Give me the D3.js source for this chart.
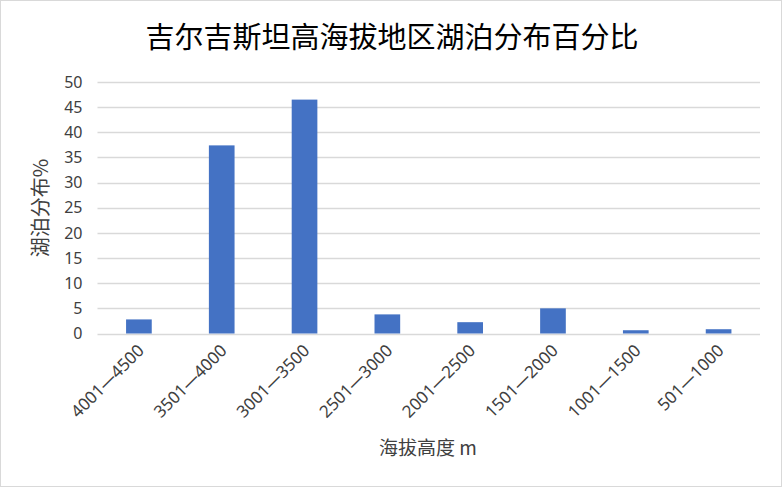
<!DOCTYPE html>
<html>
<head>
<meta charset="utf-8">
<script src="https://cdn.jsdelivr.net/npm/d3@7"></script>
<style>
  body { margin: 0; background: #fff; }
  text { font-family: "Noto Sans CJK SC", "Noto Sans", sans-serif; fill: #404040; }
</style>
</head>
<body>
<svg id="chart" width="783" height="489"></svg>
<script>
var categories = ["4001—4500", "3501—4000", "3001—3500", "2501—3000", "2001—2500", "1501—2000", "1001—1500", "501—1000"];
var values = [2.8, 37.4, 46.5, 3.8, 2.25, 5.0, 0.65, 0.85];
var yTicks = [0, 5, 10, 15, 20, 25, 30, 35, 40, 45, 50];

var title = "吉尔吉斯坦高海拔地区湖泊分布百分比";
var xTitle = "海拔高度 m";
var yTitle = "湖泊分布%";

var svg = d3.select("#chart");
var plotLeft = 97.5, plotRight = 760, plotTop = 82, plotBottom = 333.5;

// chart border
svg.append("rect")
	.attr("x", 0.5).attr("y", 0.5)
	.attr("width", 781).attr("height", 486)
	.attr("fill", "white")
	.attr("stroke", "#d9d9d9");

var x = d3.scaleBand()
	.domain(categories)
	.range([plotLeft, plotRight])
	.paddingInner(0.69)
	.paddingOuter(0.345);
var y = d3.scaleLinear()
	.domain([0, 50])
	.range([plotBottom, plotTop]);

// gridlines
svg.append("g")
	.selectAll("line")
	.data(yTicks)
	.enter()
		.append("line")
		.attr("x1", plotLeft).attr("x2", plotRight)
		.attr("y1", function(d){ return Math.round(y(d)) + 0.5; })
		.attr("y2", function(d){ return Math.round(y(d)) + 0.5; })
		.attr("stroke", "#d9d9d9")
		.attr("stroke-width", 1.5);

// y axis labels
var yAxis = svg.append("g")
	.attr("transform", "translate(" + (plotLeft - 15) + ",0)")
	.call(d3.axisLeft(y).tickValues(yTicks).tickSize(0).tickPadding(0));
yAxis.select(".domain").remove();
yAxis.selectAll("text")
	.attr("font-size", 16)
	.attr("fill", "#404040")
	.style("font-family", "'Noto Sans', sans-serif");

// bars
svg.append("g")
	.selectAll("rect")
	.data(values)
	.enter()
		.append("rect")
		.attr("x", function(d, i){ return x(categories[i]); })
		.attr("y", function(d){ return y(d); })
		.attr("width", x.bandwidth())
		.attr("height", function(d){ return y(0) - y(d); })
		.attr("fill", "#4472c4");

// x axis labels
svg.append("g")
	.selectAll("text")
	.data(categories)
	.enter()
		.append("text")
		.attr("transform", function(d){
			var cx = x(d) + x.bandwidth() / 2 + 2;
			return "translate(" + cx + "," + (plotBottom + 14) + ") rotate(-45)";
		})
		.attr("text-anchor", "end")
		.attr("dy", "0.35em")
		.attr("font-size", 17)
		.style("font-family", "'Noto Sans', sans-serif")
		.text(function(d){ return d; });

// titles
svg.append("text")
	.attr("x", 392).attr("y", 48)
	.attr("text-anchor", "middle")
	.attr("font-size", 29)
	.style("fill", "#000")
	.text(title);

svg.append("text")
	.attr("x", 428).attr("y", 455)
	.attr("text-anchor", "middle")
	.attr("font-size", 19)
	.text(xTitle);

svg.append("text")
	.attr("transform", "translate(48,208) rotate(-90)")
	.attr("text-anchor", "middle")
	.attr("font-size", 20)
	.text(yTitle);
</script>
</body>
</html>
